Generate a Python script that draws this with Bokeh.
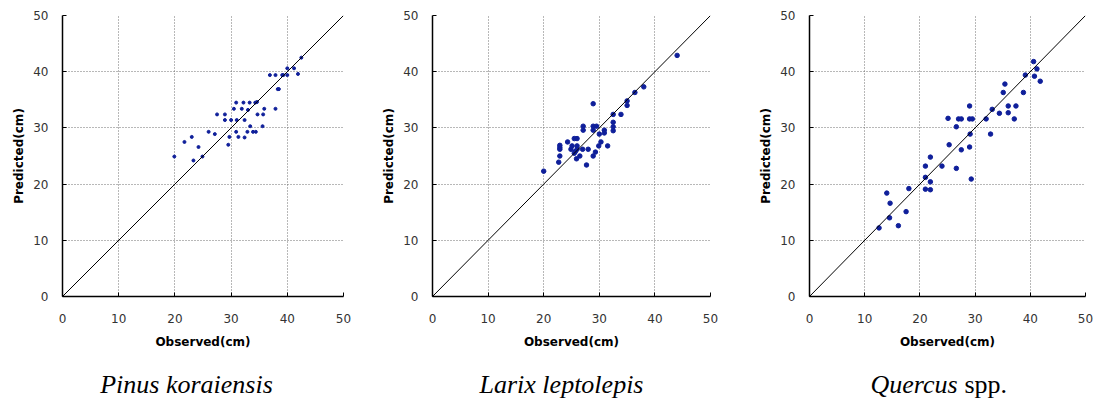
from bokeh.plotting import figure
from bokeh.layouts import row, column
from bokeh.models import Range1d, Slope, FixedTicker, Label
from bokeh.embed import file_html
from bokeh.resources import INLINE

# ---------------- data ----------------
tick_values = [0, 10, 20, 30, 40, 50]

pinus_obs = [19.9, 21.7, 23.0, 23.3, 24.2, 24.9, 26.0, 27.1, 27.5, 28.9,
             28.9, 29.5, 29.7, 30.0, 30.5, 30.9, 30.9, 31.0, 31.3, 31.9,
             32.2, 32.4, 32.4, 32.9, 33.0, 33.3, 33.4, 33.9, 34.4, 34.3,
             34.6, 34.7, 35.6, 35.7, 35.9, 36.9, 37.9, 37.9, 38.3, 38.5,
             39.1, 39.3, 40.0, 40.0, 41.2, 41.9, 42.5]
pinus_pred = [24.9, 27.5, 28.4, 24.2, 26.6, 24.9, 29.3, 28.9, 32.4, 32.4,
              31.4, 27.0, 28.4, 31.4, 33.4, 34.5, 29.3, 31.4, 28.4, 33.4,
              34.5, 28.3, 31.4, 29.3, 33.2, 34.5, 30.3, 29.3, 29.3, 34.5,
              34.6, 32.4, 30.3, 32.4, 33.4, 39.4, 39.4, 33.4, 36.9, 36.9,
              39.4, 39.4, 40.6, 39.4, 40.6, 39.6, 42.5]

larix_obs = [20.0, 22.7, 22.9, 22.9, 22.9, 22.9, 24.3, 24.9, 25.1, 25.5,
             25.5, 25.7, 26.0, 26.0, 26.0, 25.9, 26.5, 27.0, 27.1, 27.1,
             27.7, 28.0, 28.9, 28.9, 28.9, 28.9, 29.3, 29.5, 30.0, 29.9,
             30.3, 30.9, 30.9, 31.5, 32.5, 32.5, 32.5, 32.5, 33.9, 35.0,
             35.0, 36.4, 38.0, 44.0]
larix_pred = [22.3, 23.9, 25.0, 26.2, 26.5, 26.9, 27.5, 26.2, 26.8, 28.1,
              25.5, 25.8, 28.1, 26.8, 26.2, 24.5, 25.0, 26.2, 29.6, 30.3,
              23.4, 26.2, 34.3, 25.0, 30.3, 29.6, 25.7, 30.3, 28.9, 26.8,
              27.5, 29.6, 29.1, 26.8, 32.4, 31.0, 30.2, 29.5, 32.4, 34.0,
              34.8, 36.3, 37.3, 42.9]

quercus_obs = [12.6, 14.0, 14.5, 14.6, 16.1, 17.5, 18.0, 21.0, 21.0, 21.0,
               21.9, 21.9, 21.9, 24.0, 25.1, 25.3, 26.6, 26.6, 27.0, 27.5,
               27.5, 29.0, 29.0, 29.0, 29.1, 29.3, 29.5, 32.0, 32.8, 33.1,
               34.4, 35.1, 35.4, 36.0, 36.0, 37.1, 37.4, 38.75, 39.1, 40.6,
               40.75, 41.2, 41.8]
quercus_pred = [12.2, 18.4, 14.0, 16.6, 12.6, 15.1, 19.2, 23.2, 21.2, 19.1,
                24.8, 20.4, 19.0, 23.2, 31.7, 27.0, 30.2, 22.8, 31.6, 31.6,
                26.1, 33.9, 31.6, 26.6, 28.9, 20.9, 31.6, 31.6, 28.9, 33.3,
                32.6, 36.3, 37.8, 33.9, 32.7, 31.6, 33.9, 36.3, 39.4, 41.8,
                39.2, 40.5, 38.3]

x_label = "Observed(cm)"
y_label = "Predicted(cm)"
caption_texts = ["Pinus koraiensis", "Larix leptolepis", "Quercus", "spp."]
DOT = "#0f1f9a"
SERIF = "'Liberation Serif', 'Times New Roman', 'DejaVu Serif', serif"


def make_panel(obs, pred, width, height, left, right, top, bottom, dot_size):
    p = figure(width=width, height=height,
               x_range=Range1d(0, 50), y_range=Range1d(0, 50),
               output_backend="svg", toolbar_location=None,
               min_border_left=left, min_border_right=right,
               min_border_top=top, min_border_bottom=bottom)
    p.outline_line_color = None
    p.background_fill_color = "white"
    p.border_fill_color = "white"
    for ax in (p.xaxis[0], p.yaxis[0]):
        ax.ticker = FixedTicker(ticks=tick_values)
        ax.major_tick_in = 4
        ax.major_tick_out = 0
        ax.minor_tick_in = 0
        ax.minor_tick_out = 0
        ax.axis_line_color = "black"
        ax.axis_line_width = 1.5
        ax.major_tick_line_color = "black"
        ax.major_label_text_font = "DejaVu Sans"
        ax.major_label_text_font_size = "12px"
        ax.major_label_text_color = "#333333"
        ax.axis_label_text_font = "DejaVu Sans"
        ax.axis_label_text_font_style = "bold"
        ax.axis_label_text_font_size = "12px"
        ax.axis_label_text_color = "black"
    p.xaxis.axis_label = x_label
    p.yaxis.axis_label = y_label
    p.xaxis.major_label_standoff = 17
    p.yaxis.major_label_standoff = 14
    p.xaxis.axis_label_standoff = 9
    p.yaxis.axis_label_standoff = 4
    for g in (p.xgrid[0], p.ygrid[0]):
        g.ticker = FixedTicker(ticks=tick_values)
        g.grid_line_color = "#707070"
        g.grid_line_dash = "1 2"
        g.grid_line_width = 1
    p.add_layout(Slope(gradient=1, y_intercept=0, line_color="black", line_width=1))
    p.scatter(obs, pred, size=dot_size, color=DOT, line_color=DOT)
    return p


p1 = make_panel(pinus_obs, pinus_pred, 370, 355, 62, 27, 13, 58, 3)
p2 = make_panel(larix_obs, larix_pred, 370, 355, 62, 30, 14, 58, 4.5)
p3 = make_panel(quercus_obs, quercus_pred, 360, 355, 69, 15, 15, 59, 4.5)

# caption strip: a blank figure whose frame spans the full strip (1 unit = 1 px)
cap = figure(width=1100, height=48, x_range=Range1d(0, 1100), y_range=Range1d(0, 48),
             x_axis_type=None, y_axis_type=None, output_backend="svg",
             toolbar_location=None, min_border=0)
cap.outline_line_color = None
cap.background_fill_color = "white"
cap.border_fill_color = "white"
cap.grid.visible = False


def caption(text, x, style, align):
    cap.add_layout(Label(x=x, y=19, text=text, text_font=SERIF, text_font_style=style,
                         text_font_size="26px", text_align=align,
                         text_baseline="alphabetic", text_color="black"))


caption(caption_texts[0], 186, "italic", "center")
caption(caption_texts[1], 561, "italic", "center")
caption(caption_texts[2], 870, "italic", "left")
caption(caption_texts[3], 964, "normal", "left")

layout = column(row(p1, p2, p3, spacing=0), cap, spacing=0)
open("out.html", "w").write(file_html(layout, INLINE))
